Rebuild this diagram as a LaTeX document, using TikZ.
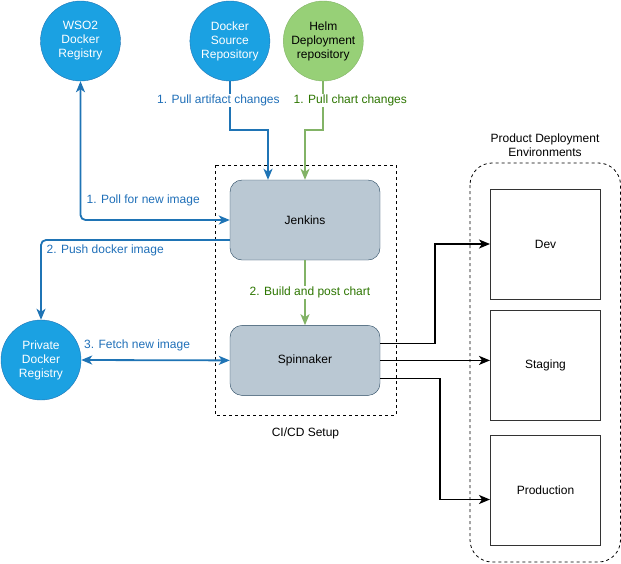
\documentclass[tikz,border=0pt]{standalone}
\usepackage{fontspec}
\setmainfont{Liberation Sans}
\usetikzlibrary{positioning,arrows.meta}

\definecolor{regfill}{HTML}{1BA1E2}
\definecolor{regline}{HTML}{1F74B5}
\definecolor{helmfill}{HTML}{97D077}
\definecolor{helmline}{HTML}{82B366}
\definecolor{cifill}{HTML}{BAC8D3}
\definecolor{ciline}{HTML}{23445D}
\definecolor{bluetext}{HTML}{1F6FB8}
\definecolor{greentext}{HTML}{2D7600}

\begin{document}
\begin{tikzpicture}[
  x=1pt, y=-1pt,
  node distance=10pt and 10pt,
  font=\fontsize{12}{14}\selectfont,
  >={Stealth[length=11pt,width=9pt,inset=3pt]},
  reg/.style={draw=regline,circle,fill=regfill,minimum size=80pt,inner sep=0pt,text=white,align=center},
  repo/.style={reg,draw=helmline,fill=helmfill,text=black},
  cibox/.style={draw=ciline,fill=cifill,rounded corners=12pt,minimum width=150pt},
  envbox/.style={draw=black!80,line width=1pt,minimum width=110pt,minimum height=110pt},
  group/.style={draw,dashed,dash pattern=on 3pt off 3pt,line width=0.8pt},
  lbl/.style={fill=white,inner sep=1pt},
  bluelink/.style={draw=regline,line width=1.8pt},
  greenlink/.style={draw=helmline,line width=1.8pt},
  deploy/.style={draw=black,line width=1.8pt,->}
]
\useasboundingbox (0,0) rectangle (621,563);

% sources
\node[reg] (wso2) at (80.5,41) {WSO2\\Docker\\Registry};
\node[reg,right=69pt of wso2] (dsrc) {Docker\\Source\\Repository};
\node[repo,right=13pt of dsrc] (helm) {Helm\\Deployment\\repository};
\node[reg] (private) at (41,360) {Private\\Docker\\Registry};

% ci/cd
\draw[group] (215,165) rectangle (396,415);
\node (cilbl) at (305.5,433) {CI/CD Setup};
\node[cibox,minimum height=80pt] (jenkins) at (305,220) {Jenkins};
\node[cibox,minimum height=70pt,below=65pt of jenkins] (spin) {Spinnaker};

% environments
\draw[group,rounded corners=22pt] (470,163) rectangle (620.5,562);
\node[align=center] (envlbl) at (545,145) {Product Deployment\\Environments};
\node[envbox] (dev) at (545.5,244) {Dev};
\node[envbox,below=10pt of dev] (staging) {Staging};
\node[envbox,below=14pt of staging] (prod) {Production};

% blue
\draw[bluelink,->] (dsrc.south) -- node[lbl,pos=0.4,xshift=-11.5pt,text=bluetext]{1. Pull artifact changes} ++(0,49) -| ([xshift=-37pt]jenkins.north);
\draw[bluelink,rounded corners=5pt,<->] (wso2.south) |- node[pos=0.71,above=13pt,text=bluetext,inner sep=0pt]{1. Poll for new image} (jenkins.west);
\draw[bluelink,rounded corners=5pt,->] ([yshift=-20pt]jenkins.west) -| node[pos=0.33,below=4pt,text=bluetext,inner sep=0pt]{2. Push docker image} (private.north);
\draw[bluelink,<->] (private.east) -- node[pos=0.376,above=8pt,text=bluetext,inner sep=0pt]{3. Fetch new image} (spin.west);

% green
\draw[greenlink,->] (helm.south) -- node[lbl,pos=0.4,xshift=27pt,text=greentext]{1. Pull chart changes} ++(0,49) -| (jenkins.north);
\draw[greenlink,->] (jenkins.south) -- node[lbl,xshift=5pt,text=greentext]{2. Build and post chart} (spin.north);

% deploy
\draw[deploy] ([yshift=17pt]spin.east) -- ++(55,0) |- (dev.west);
\draw[deploy] (spin.east) -- (spin.east -| staging.west);
\draw[deploy] ([yshift=-18pt]spin.east) -- ++(60,0) |- ([yshift=-9.5pt]prod.west);

\end{tikzpicture}
\end{document}
